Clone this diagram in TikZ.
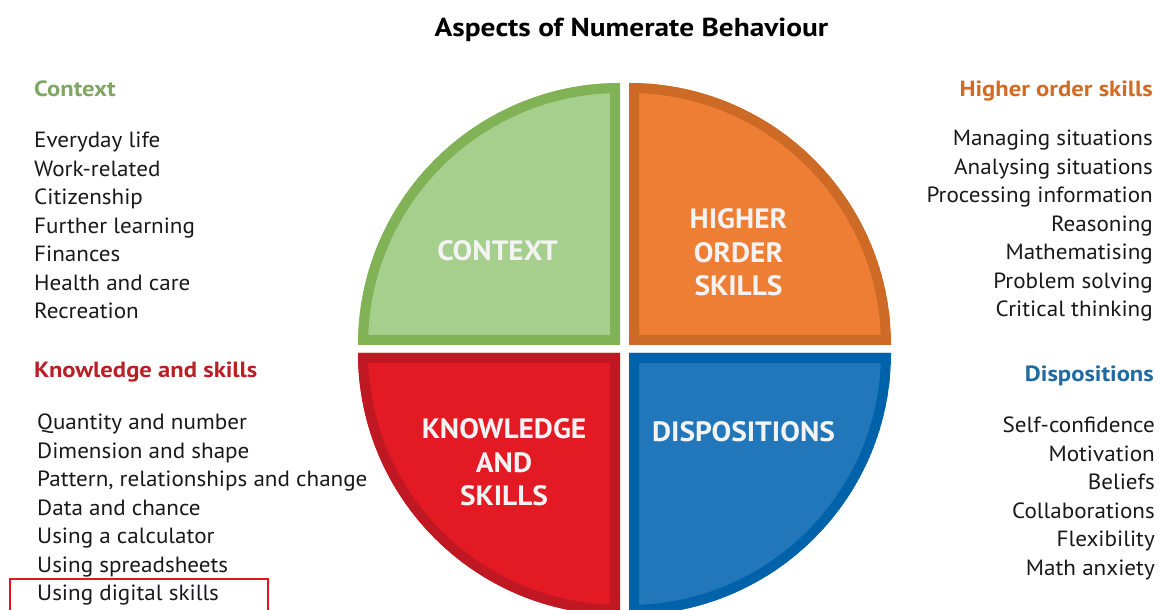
\documentclass[tikz,border=0pt]{standalone}
\usepackage{fontspec}
\setmainfont{PT Sans}
\newfontfamily\bodyfont[FakeStretch=1.05]{PT Sans}
\newfontfamily\headfont[FakeStretch=1.12]{PT Sans}
\newfontfamily\titlefont[FakeStretch=1.13]{PT Sans}
\newfontfamily\labelfont[FakeStretch=1.05]{PT Sans}
\definecolor{gBorder}{HTML}{82B256}
\definecolor{gFill}{HTML}{A6CF8D}
\definecolor{oBorder}{HTML}{CD6A25}
\definecolor{oFill}{HTML}{EF7E35}
\definecolor{rBorder}{HTML}{BF1823}
\definecolor{rFill}{HTML}{E31923}
\definecolor{bBorder}{HTML}{0063A9}
\definecolor{bFill}{HTML}{2177BA}
\definecolor{gHead}{HTML}{7FA763}
\definecolor{oHead}{HTML}{D46B22}
\definecolor{rHead}{HTML}{B92025}
\definecolor{bHead}{HTML}{1F6AA0}
\definecolor{labelText}{HTML}{F3F3F3}
\definecolor{boxRed}{HTML}{E8141C}
\begin{document}
\begin{tikzpicture}[x=1pt,y=1pt,
  item/.style={inner sep=0pt, font=\bodyfont\fontsize{22}{26}\selectfont, text=black!90},
  head/.style={inner sep=0pt, font=\headfont\fontsize{22}{26}\selectfont\bfseries},
  qlabel/.style={inner sep=0pt, anchor=base, text=labelText, font=\labelfont\fontsize{28}{33}\selectfont\bfseries},
  quadrant/.style n args={2}{fill=#2, draw=#1, line width=20pt, line join=miter}]
\useasboundingbox (0,0) rectangle (1159,610);
\clip (0,0) rectangle (1159,610);
% title
\node[inner sep=0pt, anchor=base, font=\titlefont\fontsize{26}{30}\selectfont\bfseries] (title) at (631.5,573) {Aspects of Numerate Behaviour};
% quadrants
\begin{scope}
  \clip (620,265) -- (358,265) arc[start angle=180,end angle=90,radius=262pt] -- cycle;
  \path[quadrant={gBorder}{gFill}] (620,265) -- (358,265) arc[start angle=180,end angle=90,radius=262pt] -- cycle;
\end{scope}
\begin{scope}
  \clip (629,265) -- (629,527) arc[start angle=90,end angle=0,radius=262pt] -- cycle;
  \path[quadrant={oBorder}{oFill}] (629,265) -- (629,527) arc[start angle=90,end angle=0,radius=262pt] -- cycle;
\end{scope}
\begin{scope}
  \clip (620,257) -- (358,257) arc[start angle=180,end angle=270,radius=262pt] -- cycle;
  \path[quadrant={rBorder}{rFill}] (620,257) -- (358,257) arc[start angle=180,end angle=270,radius=262pt] -- cycle;
\end{scope}
\begin{scope}
  \clip (629,257) -- (891,257) arc[start angle=0,end angle=-90,radius=262pt] -- cycle;
  \path[quadrant={bBorder}{bFill}] (629,257) -- (891,257) arc[start angle=0,end angle=-90,radius=262pt] -- cycle;
\end{scope}
% quadrant labels
\node[qlabel] (qctx) at (497.5,349) {CONTEXT};
\node[qlabel] (qhos1) at (738.5,381) {HIGHER};
\node[qlabel] (qhos2) at (738.5,347) {ORDER};
\node[qlabel] (qhos3) at (738.5,314) {SKILLS};
\node[qlabel] (qks1) at (504,171) {KNOWLEDGE};
\node[qlabel] (qks2) at (504,137) {AND};
\node[qlabel] (qks3) at (504,104) {SKILLS};
\node[qlabel] (qdis) at (743.5,168) {DISPOSITIONS};
% context list
\node[head, anchor=base west, text=gHead] (hctx) at (34,513) {Context};
\foreach \t [count=\i] in {Everyday life, Work-related, Citizenship, Further learning, Finances, Health and care, Recreation}
  \node[item, anchor=base west] (ctx\i) at (34,{462-28.5*(\i-1)}) {\t};
% knowledge list
\node[head, anchor=base west, text=rHead] (hks) at (34,232) {Knowledge and skills};
\foreach \t [count=\i] in {Quantity and number, Dimension and shape, {Pattern, relationships and change}, Data and chance, Using a calculator, Using spreadsheets, Using digital skills}
  \node[item, anchor=base west] (ks\i) at (37,{180-28.5*(\i-1)}) {\t};
% higher order list
\node[head, anchor=base east, text=oHead] (hhos) at (1153,513) {Higher order skills};
\foreach \t [count=\i] in {Managing situations, Analysing situations, Processing information, Reasoning, Mathematising, Problem solving, Critical thinking}
  \node[item, anchor=base east] (hos\i) at (1153,{464-28.5*(\i-1)}) {\t};
% dispositions list
\node[head, anchor=base east, text=bHead] (hdis) at (1154,228) {Dispositions};
\foreach \t [count=\i] in {Self-confidence, Motivation, Beliefs, Collaborations, Flexibility, Math anxiety}
  \node[item, anchor=base east] (dis\i) at (1155,{177-28.5*(\i-1)}) {\t};
% highlight box
\node[draw=boxRed, line width=2pt, inner sep=0pt, minimum width=258pt, minimum height=36pt, anchor=north west] (hl) at (9,32) {};
\end{tikzpicture}
\end{document}
